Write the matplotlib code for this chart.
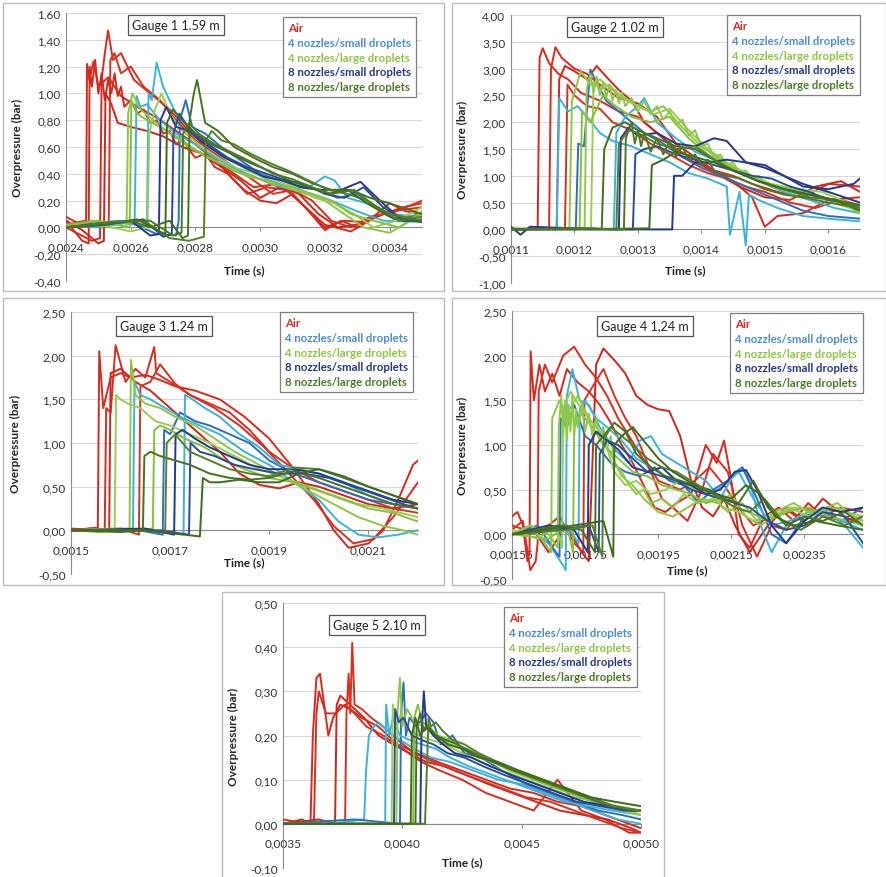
import matplotlib.pyplot as plt
from matplotlib.lines import Line2D
from matplotlib.patches import Rectangle

plt.rcParams['font.family'] = ['Lato', 'DejaVu Sans']

series_names = ['Air', '4 nozzles/small droplets', '4 nozzles/large droplets',
                '8 nozzles/small droplets', '8 nozzles/large droplets']

# times in microseconds, overpressure in bar
# ---------------- Gauge 1 ----------------
g1_air = [
    ([2400, 2430, 2462, 2465, 2472, 2485, 2500, 2530, 2570, 2620, 2680, 2740, 2800, 2860, 2920, 2980, 3040, 3100, 3160, 3200, 3260, 3320, 3400, 3500],
     [0.08, 0.04, 0.02, 1.22, 1.10, 1.24, 1.05, 1.12, 0.98, 0.90, 0.82, 0.72, 0.62, 0.50, 0.40, 0.30, 0.32, 0.25, 0.10, 0.00, 0.05, 0.04, 0.12, 0.15]),
    ([2400, 2440, 2480, 2505, 2510, 2520, 2530, 2545, 2570, 2610, 2660, 2720, 2780, 2840, 2900, 2960, 3020, 3080, 3140, 3200, 3280, 3360, 3440, 3500],
     [0.00, -0.05, -0.10, -0.08, 1.10, 1.30, 1.47, 1.25, 1.30, 1.10, 1.00, 0.88, 0.72, 0.58, 0.40, 0.25, 0.30, 0.28, 0.15, 0.02, -0.03, 0.08, 0.15, 0.18]),
    ([2400, 2450, 2500, 2517, 2522, 2540, 2560, 2600, 2650, 2700, 2760, 2820, 2880, 2940, 3000, 3060, 3120, 3180, 3240, 3300, 3380, 3460, 3500],
     [0.05, -0.02, -0.12, -0.10, 1.00, 0.92, 0.78, 0.75, 0.72, 0.68, 0.60, 0.55, 0.45, 0.35, 0.22, 0.30, 0.25, 0.10, 0.00, 0.02, 0.10, 0.08, 0.10]),
    ([2400, 2460, 2510, 2532, 2537, 2550, 2570, 2600, 2640, 2690, 2740, 2800, 2860, 2920, 2980, 3040, 3100, 3160, 3220, 3280, 3340, 3420, 3500],
     [0.02, 0.05, 0.00, 0.02, 1.25, 1.30, 1.15, 1.20, 1.05, 0.95, 0.80, 0.65, 0.55, 0.45, 0.35, 0.25, 0.28, 0.20, 0.05, 0.00, 0.08, 0.12, 0.20]),
    ([2400, 2450, 2470, 2473, 2480, 2490, 2500, 2510, 2520, 2530, 2540, 2550, 2560, 2570, 2580, 2600, 2620, 2640, 2660, 2680, 2700, 2720, 2740, 2760, 2780, 2800, 2830, 2860, 2900, 2950, 3000, 3050, 3100, 3150, 3200, 3250, 3300, 3350, 3400, 3450, 3500],
     [0.05, -0.10, -0.12, 1.20, 1.05, 1.25, 1.00, 1.15, 0.95, 1.10, 1.00, 1.15, 0.98, 1.05, 0.90, 0.95, 0.85, 0.88, 0.78, 0.80, 0.70, 0.72, 0.62, 0.66, 0.58, 0.52, 0.55, 0.45, 0.40, 0.28, 0.20, 0.18, 0.25, 0.12, -0.02, 0.05, 0.00, 0.08, 0.18, 0.12, 0.10]),
]
g1_s4 = [
    ([2400, 2480, 2560, 2620, 2650, 2655, 2665, 2680, 2700, 2740, 2790, 2850, 2910, 2970, 3030, 3090, 3150, 3200, 3230, 3270, 3330, 3400, 3500],
     [0.00, 0.03, 0.05, 0.02, 0.00, 1.00, 0.95, 1.23, 1.05, 0.85, 0.72, 0.60, 0.50, 0.42, 0.35, 0.30, 0.30, 0.38, 0.35, 0.22, 0.18, 0.10, 0.08]),
    ([2400, 2500, 2600, 2680, 2740, 2748, 2752, 2770, 2790, 2830, 2880, 2940, 3000, 3060, 3120, 3180, 3240, 3300, 3360, 3420, 3500],
     [0.00, 0.02, 0.04, -0.05, -0.06, 0.05, 0.80, 0.95, 0.75, 0.70, 0.60, 0.50, 0.40, 0.35, 0.30, 0.28, 0.22, 0.25, 0.15, 0.05, 0.10]),
    ([2400, 2500, 2580, 2612, 2618, 2630, 2650, 2690, 2740, 2800, 2860, 2920, 2980, 3040, 3100, 3160, 3220, 3300, 3380, 3500],
     [0.02, 0.00, 0.03, 0.02, 0.98, 0.90, 0.92, 0.80, 0.70, 0.62, 0.52, 0.44, 0.38, 0.32, 0.28, 0.25, 0.20, 0.12, 0.05, 0.04]),
]
g1_l4 = [
    ([2400, 2480, 2560, 2587, 2592, 2605, 2630, 2670, 2720, 2780, 2840, 2900, 2960, 3020, 3080, 3140, 3200, 3260, 3320, 3400, 3500],
     [0.00, 0.05, 0.02, 0.00, 0.85, 1.00, 0.88, 0.80, 0.70, 0.60, 0.52, 0.45, 0.38, 0.35, 0.30, 0.25, 0.20, 0.10, 0.00, -0.04, 0.10]),
    ([2400, 2500, 2600, 2652, 2657, 2675, 2695, 2720, 2760, 2810, 2870, 2930, 2990, 3050, 3110, 3170, 3230, 3290, 3350, 3420, 3500],
     [0.00, 0.02, -0.03, 0.00, 0.70, 0.88, 1.00, 0.85, 0.72, 0.62, 0.52, 0.44, 0.40, 0.35, 0.30, 0.22, 0.18, 0.10, 0.00, 0.05, 0.15]),
    ([2400, 2500, 2597, 2602, 2620, 2650, 2690, 2740, 2800, 2860, 2920, 2980, 3040, 3100, 3160, 3220, 3280, 3350, 3430, 3500],
     [0.02, 0.05, 0.00, 0.95, 0.85, 0.80, 0.75, 0.68, 0.58, 0.50, 0.42, 0.38, 0.32, 0.30, 0.25, 0.20, 0.10, 0.05, 0.00, 0.12]),
]
g1_s8 = [
    ([2400, 2500, 2600, 2660, 2687, 2692, 2710, 2740, 2780, 2830, 2890, 2950, 3010, 3070, 3130, 3190, 3250, 3310, 3370, 3440, 3500],
     [0.00, 0.03, 0.05, -0.06, -0.05, 0.80, 0.90, 0.75, 0.72, 0.62, 0.52, 0.45, 0.38, 0.35, 0.30, 0.28, 0.28, 0.34, 0.20, 0.05, 0.05]),
    ([2400, 2520, 2640, 2700, 2727, 2732, 2750, 2790, 2840, 2900, 2960, 3020, 3080, 3140, 3200, 3260, 3320, 3380, 3450, 3500],
     [0.00, 0.02, 0.06, -0.07, -0.05, 0.70, 0.85, 0.70, 0.62, 0.52, 0.45, 0.40, 0.35, 0.32, 0.25, 0.22, 0.30, 0.15, 0.05, 0.06]),
]
g1_l8 = [
    ([2400, 2500, 2600, 2660, 2720, 2760, 2777, 2782, 2795, 2805, 2830, 2870, 2920, 2980, 3040, 3100, 3160, 3220, 3280, 3340, 3400, 3500],
     [0.00, 0.02, 0.05, 0.00, 0.05, -0.08, -0.06, 0.80, 1.00, 1.10, 0.78, 0.72, 0.60, 0.52, 0.45, 0.40, 0.33, 0.28, 0.28, 0.22, 0.18, 0.10]),
    ([2400, 2520, 2640, 2720, 2780, 2826, 2832, 2850, 2880, 2920, 2970, 3030, 3090, 3150, 3210, 3270, 3330, 3400, 3500],
     [0.00, 0.03, 0.05, -0.08, -0.10, -0.07, 0.65, 0.72, 0.65, 0.62, 0.55, 0.48, 0.42, 0.35, 0.28, 0.25, 0.20, 0.10, 0.05]),
    ([2400, 2520, 2620, 2680, 2707, 2712, 2730, 2760, 2800, 2850, 2910, 2970, 3030, 3090, 3150, 3210, 3270, 3330, 3400, 3500],
     [0.00, 0.02, 0.06, -0.02, -0.05, 0.78, 0.88, 0.80, 0.70, 0.62, 0.55, 0.48, 0.42, 0.35, 0.30, 0.25, 0.28, 0.18, 0.08, 0.04]),
    ([2400, 2540, 2660, 2730, 2757, 2762, 2780, 2810, 2860, 2920, 2980, 3040, 3100, 3160, 3220, 3290, 3360, 3430, 3500],
     [0.00, 0.04, 0.05, -0.06, -0.04, 0.70, 0.78, 0.70, 0.62, 0.55, 0.48, 0.40, 0.36, 0.30, 0.25, 0.28, 0.15, 0.05, 0.08]),
]

# ---------------- Gauge 2 ----------------
g2_air = [
    ([1100, 1130, 1142, 1145, 1150, 1160, 1175, 1190, 1210, 1240, 1270, 1300, 1330, 1360, 1390, 1420, 1450, 1480, 1500, 1520, 1560, 1600, 1650],
     [0.00, 0.02, 0.00, 3.20, 3.38, 3.10, 2.90, 2.80, 2.55, 2.40, 2.20, 2.10, 1.80, 1.50, 1.30, 1.10, 0.90, 0.60, 0.05, 0.25, 0.30, 0.55, 0.60]),
    ([1100, 1140, 1160, 1163, 1170, 1180, 1200, 1220, 1240, 1270, 1300, 1330, 1360, 1390, 1420, 1450, 1480, 1520, 1560, 1600, 1650],
     [0.02, 0.00, 0.02, 3.00, 3.40, 3.20, 3.00, 2.90, 2.70, 2.45, 2.35, 2.10, 1.60, 1.35, 1.10, 1.00, 0.85, 0.70, 0.60, 0.85, 0.80]),
    ([1100, 1150, 1172, 1176, 1185, 1200, 1220, 1235, 1250, 1270, 1290, 1310, 1340, 1370, 1400, 1430, 1460, 1500, 1540, 1580, 1620, 1650],
     [0.00, 0.02, 0.01, 2.80, 3.05, 2.95, 2.80, 3.05, 2.85, 2.60, 2.40, 2.00, 1.70, 1.35, 1.20, 1.00, 0.80, 0.60, 0.55, 0.80, 0.90, 0.70]),
    ([1100, 1160, 1185, 1189, 1200, 1220, 1240, 1260, 1290, 1320, 1350, 1380, 1410, 1440, 1470, 1500, 1540, 1580, 1620, 1650],
     [0.00, 0.01, 0.02, 2.70, 2.50, 2.30, 2.25, 2.00, 1.85, 1.60, 1.40, 1.20, 1.05, 0.95, 0.80, 0.70, 0.50, 0.40, 0.55, 0.45]),
]
g2_s4 = [
    ([1100, 1150, 1172, 1176, 1190, 1205, 1220, 1240, 1260, 1290, 1320, 1350, 1380, 1410, 1440, 1445, 1460, 1470, 1475, 1490, 1520, 1560, 1600, 1650],
     [0.00, 0.01, 0.00, 2.45, 2.20, 2.30, 2.10, 1.80, 1.65, 1.55, 1.40, 1.25, 1.05, 0.95, 0.80, -0.10, 0.70, -0.30, 0.65, 0.55, 0.40, 0.25, 0.20, 0.15]),
    ([1100, 1180, 1202, 1206, 1215, 1225, 1250, 1280, 1310, 1340, 1370, 1400, 1440, 1480, 1520, 1560, 1600, 1650],
     [0.00, 0.02, 0.00, 1.60, 1.55, 2.98, 2.40, 2.10, 1.80, 1.60, 1.35, 1.15, 0.95, 0.75, 0.55, 0.35, 0.25, 0.20]),
    ([1100, 1200, 1262, 1266, 1280, 1300, 1310, 1330, 1360, 1390, 1420, 1450, 1490, 1530, 1570, 1610, 1650],
     [0.00, 0.02, 0.00, 1.80, 2.10, 2.30, 2.45, 2.00, 1.70, 1.45, 1.30, 1.10, 0.90, 0.70, 0.55, 0.40, 0.30]),
]
g2_l4 = [
    ([1100, 1170, 1192, 1196, 1210, 1225, 1240, 1260, 1280, 1300, 1320, 1340, 1370, 1400, 1430, 1460, 1500, 1540, 1580, 1620, 1650],
     [0.00, 0.02, 0.00, 2.40, 2.95, 2.70, 2.80, 2.60, 2.45, 2.30, 2.20, 2.30, 1.90, 1.55, 1.30, 1.10, 0.85, 0.70, 0.65, 0.50, 0.30]),
    ([1100, 1200, 1226, 1230, 1240, 1255, 1275, 1300, 1325, 1350, 1380, 1410, 1440, 1470, 1510, 1550, 1590, 1630, 1650],
     [0.00, 0.02, 0.00, 2.75, 2.60, 2.70, 2.45, 2.30, 2.15, 2.25, 1.85, 1.50, 1.25, 1.05, 0.85, 0.75, 0.70, 0.50, 0.40]),
    ([1100, 1180, 1208, 1212, 1225, 1245, 1265, 1290, 1320, 1350, 1380, 1410, 1440, 1480, 1520, 1560, 1600, 1650],
     [0.01, 0.00, 0.02, 2.20, 2.00, 2.50, 2.30, 2.10, 2.00, 2.10, 1.70, 1.40, 1.20, 0.95, 0.80, 0.70, 0.55, 0.35]),
    ([1100, 1150, 1216, 1219, 1225, 1230, 1235, 1240, 1245, 1250, 1255, 1260, 1265, 1270, 1275, 1280, 1290, 1300, 1310, 1320, 1330, 1340, 1350, 1360, 1370, 1380, 1390, 1400, 1410, 1420, 1430, 1440, 1450, 1460, 1470, 1480, 1490, 1500, 1520, 1540, 1560, 1580, 1600, 1620, 1650],
     [0.00, 0.02, 0.01, 2.60, 2.90, 2.55, 2.85, 2.50, 2.75, 2.45, 2.70, 2.40, 2.60, 2.35, 2.55, 2.30, 2.45, 2.20, 2.40, 2.15, 2.30, 2.05, 2.20, 1.95, 2.05, 1.75, 1.85, 1.55, 1.60, 1.35, 1.40, 1.20, 1.25, 1.05, 1.10, 0.95, 1.00, 0.85, 0.80, 0.70, 0.75, 0.60, 0.55, 0.45, 0.35]),
]
g2_s8 = [
    ([1100, 1115, 1130, 1200, 1270, 1273, 1285, 1300, 1330, 1360, 1390, 1420, 1440, 1470, 1500, 1530, 1560, 1600, 1640, 1650],
     [0.05, -0.10, 0.05, 0.02, 0.00, 1.70, 1.90, 1.75, 1.80, 1.60, 1.55, 1.70, 1.65, 1.25, 1.20, 1.00, 0.80, 0.75, 0.85, 0.95]),
    ([1100, 1200, 1292, 1296, 1310, 1330, 1360, 1390, 1420, 1450, 1480, 1510, 1540, 1570, 1600, 1650],
     [0.00, 0.02, 0.00, 1.40, 1.50, 1.55, 1.40, 1.30, 1.20, 1.10, 1.00, 0.95, 0.80, 0.70, 0.55, 0.45]),
    ([1100, 1200, 1300, 1354, 1357, 1370, 1390, 1410, 1440, 1470, 1500, 1530, 1560, 1600, 1650],
     [0.00, 0.00, 0.00, 0.00, 1.00, 1.00, 1.25, 1.25, 1.30, 1.25, 1.15, 1.00, 0.85, 0.70, 0.50]),
]
g2_l8 = [
    ([1100, 1200, 1243, 1247, 1260, 1280, 1300, 1330, 1360, 1390, 1420, 1450, 1490, 1530, 1570, 1610, 1650],
     [0.00, 0.01, 0.00, 1.50, 1.90, 2.00, 1.85, 1.70, 1.55, 1.50, 1.30, 1.10, 0.90, 0.75, 0.65, 0.55, 0.45]),
    ([1100, 1220, 1266, 1270, 1285, 1300, 1330, 1360, 1390, 1420, 1450, 1490, 1530, 1570, 1610, 1650],
     [0.00, 0.02, 0.00, 1.60, 1.85, 1.80, 1.60, 1.50, 1.55, 1.30, 1.10, 0.90, 0.75, 0.60, 0.55, 0.40]),
    ([1100, 1250, 1318, 1322, 1340, 1360, 1390, 1420, 1450, 1490, 1530, 1570, 1610, 1650],
     [0.00, 0.01, 0.02, 1.20, 1.30, 1.45, 1.35, 1.25, 1.10, 0.90, 0.75, 0.65, 0.55, 0.35]),
    ([1100, 1200, 1278, 1281, 1290, 1295, 1300, 1305, 1310, 1320, 1330, 1340, 1350, 1360, 1370, 1380, 1390, 1400, 1410, 1420, 1440, 1460, 1480, 1500, 1530, 1560, 1600, 1650],
     [0.00, 0.02, 0.00, 1.70, 2.00, 1.60, 1.85, 1.55, 1.80, 1.45, 1.70, 1.40, 1.65, 1.35, 1.55, 1.30, 1.40, 1.20, 1.30, 1.10, 1.00, 0.95, 0.85, 0.75, 0.65, 0.60, 0.50, 0.40]),
]

# ---------------- Gauge 3 ----------------
g3_air = [
    ([1500, 1540, 1554, 1557, 1565, 1580, 1600, 1620, 1650, 1680, 1710, 1750, 1800, 1850, 1900, 1950, 2000, 2030, 2060, 2100, 2130, 2160, 2190, 2200],
     [0.00, 0.02, -0.02, 2.05, 1.40, 1.75, 1.80, 1.75, 1.78, 1.72, 1.65, 1.60, 1.50, 1.30, 1.05, 0.70, 0.30, 0.00, -0.20, -0.15, 0.00, 0.35, 0.75, 0.80]),
    ([1500, 1550, 1568, 1571, 1580, 1590, 1610, 1630, 1650, 1668, 1672, 1700, 1740, 1790, 1840, 1890, 1940, 1990, 2030, 2070, 2110, 2150, 2200],
     [0.00, 0.03, 0.00, 1.40, 1.35, 2.12, 1.70, 1.85, 1.75, 2.10, 1.80, 1.70, 1.55, 1.40, 1.20, 0.95, 0.65, 0.35, 0.05, -0.15, -0.10, 0.15, 0.55]),
    ([1500, 1560, 1577, 1580, 1600, 1630, 1660, 1690, 1720, 1760, 1800, 1840, 1880, 1920, 1960, 2000, 2050, 2100, 2150, 2200],
     [0.02, 0.00, 0.00, 1.80, 1.85, 1.70, 1.60, 1.45, 1.30, 1.10, 0.90, 0.65, 0.52, 0.48, 0.55, 0.50, 0.40, 0.30, 0.25, 0.30]),
    ([1500, 1600, 1637, 1640, 1660, 1680, 1710, 1740, 1780, 1820, 1860, 1900, 1950, 2000, 2050, 2100, 2150, 2200],
     [0.00, 0.02, -0.05, 1.65, 1.70, 1.90, 1.68, 1.55, 1.45, 1.35, 1.15, 0.90, 0.70, 0.55, 0.45, 0.35, 0.25, 0.20]),
]
g3_s4 = [
    ([1500, 1600, 1625, 1628, 1640, 1660, 1690, 1720, 1760, 1800, 1850, 1900, 1950, 2000, 2040, 2080, 2120, 2160, 2200],
     [0.00, 0.02, 0.00, 1.70, 1.55, 1.50, 1.40, 1.30, 1.20, 1.10, 0.90, 0.75, 0.55, 0.35, 0.10, -0.05, -0.08, -0.05, 0.00]),
    ([1500, 1620, 1685, 1688, 1700, 1720, 1750, 1780, 1820, 1860, 1900, 1950, 2000, 2050, 2100, 2150, 2200],
     [0.00, 0.02, -0.05, 1.15, 1.10, 1.35, 1.25, 1.20, 1.10, 1.00, 0.80, 0.65, 0.55, 0.45, 0.35, 0.30, 0.25]),
    ([1500, 1650, 1727, 1730, 1745, 1770, 1800, 1840, 1880, 1920, 1960, 2000, 2050, 2100, 2150, 2200],
     [0.00, 0.00, -0.05, 1.55, 1.50, 1.40, 1.30, 1.10, 0.95, 0.75, 0.70, 0.65, 0.55, 0.40, 0.30, 0.25]),
]
g3_l4 = [
    ([1500, 1580, 1618, 1621, 1630, 1650, 1680, 1710, 1750, 1790, 1830, 1880, 1930, 1980, 2030, 2080, 2130, 2170, 2200],
     [0.00, 0.02, 0.00, 1.95, 1.55, 1.45, 1.40, 1.30, 1.20, 1.05, 0.90, 0.75, 0.60, 0.45, 0.30, 0.15, 0.05, 0.00, -0.05]),
    ([1500, 1560, 1588, 1591, 1600, 1615, 1640, 1670, 1700, 1740, 1780, 1830, 1880, 1930, 1980, 2030, 2080, 2130, 2200],
     [0.00, -0.02, 0.00, 1.55, 1.50, 1.45, 1.40, 1.25, 1.20, 1.10, 1.00, 0.85, 0.70, 0.60, 0.50, 0.40, 0.30, 0.25, 0.15]),
    ([1500, 1620, 1665, 1668, 1680, 1700, 1730, 1770, 1810, 1850, 1900, 1950, 2000, 2050, 2100, 2150, 2200],
     [0.00, 0.00, 0.02, 1.15, 1.20, 1.15, 1.05, 0.95, 0.80, 0.70, 0.60, 0.55, 0.45, 0.35, 0.25, 0.20, 0.10]),
]
g3_s8 = [
    ([1500, 1650, 1708, 1711, 1725, 1750, 1780, 1820, 1860, 1900, 1950, 2000, 2050, 2100, 2150, 2200],
     [0.00, 0.02, -0.05, 1.10, 1.15, 1.05, 0.95, 0.85, 0.75, 0.70, 0.70, 0.65, 0.55, 0.45, 0.35, 0.30]),
    ([1500, 1680, 1738, 1741, 1760, 1790, 1830, 1870, 1920, 1970, 2020, 2070, 2120, 2170, 2200],
     [0.00, 0.00, -0.05, 1.00, 0.90, 0.85, 0.75, 0.70, 0.65, 0.65, 0.60, 0.50, 0.40, 0.30, 0.25]),
]
g3_l8 = [
    ([1500, 1600, 1645, 1648, 1660, 1680, 1710, 1740, 1780, 1820, 1860, 1900, 1950, 2000, 2050, 2100, 2150, 2200],
     [0.00, -0.02, 0.00, 0.85, 0.90, 0.85, 0.80, 0.75, 0.65, 0.60, 0.58, 0.60, 0.68, 0.60, 0.50, 0.40, 0.30, 0.25]),
    ([1500, 1640, 1690, 1693, 1710, 1740, 1780, 1820, 1860, 1900, 1950, 2000, 2050, 2100, 2150, 2200],
     [0.00, 0.00, -0.02, 1.00, 1.10, 0.90, 0.80, 0.70, 0.65, 0.62, 0.72, 0.70, 0.60, 0.50, 0.40, 0.30]),
    ([1500, 1650, 1700, 1760, 1766, 1780, 1800, 1840, 1880, 1920, 1960, 2000, 2050, 2100, 2150, 2200],
     [0.00, 0.00, -0.03, -0.07, 0.60, 0.55, 0.55, 0.58, 0.55, 0.55, 0.65, 0.70, 0.62, 0.50, 0.40, 0.30]),
]

# ---------------- Gauge 4 ----------------
g4_air = [
    ([1550, 1565, 1580, 1592, 1598, 1601, 1610, 1625, 1640, 1660, 1680, 1700, 1730, 1760, 1790, 1820, 1850, 1880, 1910, 1940, 1970, 2000, 2040, 2080, 2110, 2130, 2150, 2170, 2200, 2240, 2280, 2320, 2360, 2400, 2450, 2510],
     [0.20, 0.25, 0.10, -0.30, -0.20, 2.05, 1.50, 1.90, 1.60, 1.80, 1.55, 1.85, 1.70, 1.60, 1.45, 1.25, 1.00, 0.80, 0.55, 0.30, 0.25, 0.35, 0.45, 1.00, 0.80, 1.05, 0.60, 0.00, -0.15, 0.20, 0.30, 0.15, 0.35, 0.20, 0.30, 0.25]),
    ([1550, 1580, 1600, 1615, 1620, 1623, 1640, 1660, 1690, 1720, 1750, 1780, 1810, 1840, 1870, 1900, 1930, 1960, 1990, 2030, 2070, 2100, 2140, 2180, 2220, 2260, 2300, 2350, 2400, 2460, 2510],
     [0.05, 0.15, -0.40, -0.30, -0.10, 1.60, 1.90, 1.70, 2.00, 2.10, 1.90, 1.75, 1.55, 1.30, 1.10, 0.90, 0.70, 0.40, 0.30, 0.15, 0.50, 0.90, 0.70, 0.10, -0.25, 0.10, 0.05, 0.30, 0.20, 0.15, 0.20]),
    ([1550, 1600, 1650, 1700, 1740, 1760, 1780, 1800, 1830, 1860, 1890, 1920, 1950, 1980, 2010, 2040, 2070, 2100, 2130, 2160, 2200, 2250, 2300, 2350, 2400, 2460, 2510],
     [0.00, 0.10, -0.20, 0.10, -0.20, -0.30, 1.90, 2.08, 1.95, 1.80, 1.55, 1.45, 1.40, 1.38, 1.10, 0.60, 0.30, 0.20, 0.40, 0.10, -0.20, 0.10, 0.30, 0.15, 0.40, 0.20, 0.10]),
    ([1550, 1620, 1680, 1720, 1745, 1748, 1770, 1800, 1830, 1860, 1890, 1920, 1950, 1980, 2010, 2050, 2090, 2130, 2170, 2210, 2260, 2310, 2360, 2410, 2460, 2510],
     [0.10, 0.00, 0.20, -0.10, -0.20, 1.50, 1.65, 1.85, 1.55, 1.30, 1.10, 0.80, 0.60, 0.55, 0.50, 0.60, 0.75, 0.55, 0.30, 0.10, 0.20, 0.25, 0.10, 0.30, 0.25, 0.15]),
]
g4_s4 = [
    ([1550, 1600, 1650, 1690, 1697, 1700, 1715, 1735, 1760, 1790, 1830, 1870, 1900, 1930, 1960, 2000, 2040, 2080, 2120, 2160, 2180, 2200, 2230, 2260, 2300, 2350, 2400, 2460, 2510],
     [0.00, 0.05, -0.10, -0.35, -0.40, 1.55, 1.85, 1.50, 1.45, 1.20, 0.95, 0.80, 1.05, 1.10, 0.90, 0.80, 0.70, 0.60, 0.40, 0.70, 0.75, 0.60, 0.10, -0.20, 0.10, 0.20, 0.30, 0.10, -0.15]),
    ([1550, 1620, 1670, 1680, 1683, 1700, 1720, 1750, 1780, 1820, 1860, 1900, 1940, 1980, 2020, 2060, 2100, 2140, 2180, 2220, 2260, 2300, 2350, 2400, 2450, 2510],
     [0.00, 0.10, -0.20, -0.25, 1.30, 1.20, 1.45, 1.10, 1.00, 0.80, 0.70, 0.65, 0.75, 0.60, 0.55, 0.35, 0.50, 0.60, 0.75, 0.40, 0.00, -0.10, 0.20, 0.25, 0.15, 0.30]),
    ([1550, 1650, 1700, 1732, 1735, 1750, 1780, 1810, 1850, 1890, 1930, 1970, 2010, 2050, 2090, 2130, 2170, 2210, 2260, 2310, 2360, 2420, 2510],
     [0.00, 0.05, 0.10, -0.10, 1.40, 1.50, 1.30, 1.20, 1.05, 0.85, 0.75, 0.65, 0.60, 0.50, 0.45, 0.55, 0.70, 0.40, 0.10, 0.15, 0.25, 0.20, 0.05]),
]
g4_l4 = [
    ([1550, 1600, 1640, 1657, 1660, 1680, 1700, 1730, 1760, 1790, 1820, 1850, 1880, 1910, 1950, 1990, 2030, 2070, 2110, 2150, 2190, 2230, 2270, 2320, 2380, 2440, 2510],
     [0.00, 0.10, -0.10, -0.20, 1.30, 1.50, 1.35, 1.55, 1.30, 1.15, 0.90, 0.65, 0.55, 0.40, 0.25, 0.20, 0.30, 0.40, 0.35, 0.45, 0.20, 0.10, 0.20, 0.30, 0.25, 0.35, 0.10]),
    ([1550, 1620, 1670, 1687, 1690, 1710, 1740, 1770, 1800, 1830, 1860, 1890, 1930, 1970, 2010, 2050, 2090, 2130, 2170, 2210, 2260, 2310, 2360, 2420, 2510],
     [0.05, -0.05, 0.10, -0.15, 1.40, 1.60, 1.40, 1.25, 1.10, 0.70, 0.55, 0.60, 0.45, 0.50, 0.60, 0.50, 0.45, 0.30, 0.25, 0.15, 0.20, 0.30, 0.20, 0.30, 0.20]),
    ([1550, 1650, 1700, 1717, 1720, 1740, 1770, 1800, 1840, 1880, 1920, 1960, 2000, 2040, 2080, 2120, 2160, 2200, 2250, 2300, 2360, 2420, 2510],
     [0.00, -0.05, 0.10, -0.20, 1.20, 1.35, 1.20, 1.00, 0.85, 0.70, 0.65, 0.55, 0.50, 0.45, 0.35, 0.40, 0.30, 0.25, 0.15, 0.25, 0.30, 0.20, 0.10]),
    ([1550, 1600, 1650, 1675, 1678, 1685, 1690, 1695, 1700, 1705, 1710, 1715, 1720, 1725, 1730, 1740, 1750, 1760, 1770, 1780, 1790, 1800, 1810, 1820, 1830, 1850, 1870, 1890, 1910, 1930, 1960, 1990, 2020, 2060, 2100, 2140, 2180, 2220, 2270, 2320, 2380, 2440, 2510],
     [0.00, 0.10, 0.00, -0.15, 1.20, 1.55, 1.10, 1.50, 1.05, 1.45, 1.15, 1.55, 1.10, 1.40, 1.20, 1.45, 1.15, 1.35, 1.10, 1.30, 1.05, 1.20, 0.95, 1.10, 0.80, 0.70, 0.55, 0.45, 0.50, 0.35, 0.40, 0.30, 0.45, 0.35, 0.40, 0.25, 0.35, 0.15, 0.25, 0.35, 0.20, 0.30, 0.15]),
]
g4_s8 = [
    ([1550, 1650, 1720, 1757, 1760, 1780, 1810, 1840, 1880, 1920, 1960, 2000, 2040, 2080, 2120, 2160, 2190, 2220, 2260, 2300, 2350, 2400, 2450, 2510],
     [0.00, 0.10, 0.05, -0.20, 1.00, 1.15, 1.05, 0.95, 0.75, 0.70, 0.75, 0.60, 0.55, 0.45, 0.50, 0.70, 0.72, 0.50, 0.10, -0.10, 0.15, 0.30, 0.25, 0.30]),
    ([1550, 1680, 1760, 1787, 1790, 1810, 1840, 1880, 1920, 1960, 2000, 2040, 2080, 2120, 2160, 2200, 2250, 2300, 2350, 2400, 2460, 2510],
     [0.00, 0.05, 0.10, -0.20, 0.90, 1.05, 1.00, 0.85, 0.70, 0.65, 0.60, 0.50, 0.45, 0.40, 0.35, 0.30, 0.15, 0.05, 0.10, 0.25, 0.20, -0.10]),
]
g4_l8 = [
    ([1550, 1680, 1740, 1777, 1780, 1800, 1830, 1860, 1890, 1930, 1970, 2010, 2050, 2090, 2130, 2170, 2210, 2250, 2300, 2350, 2400, 2460, 2510],
     [0.00, 0.10, 0.05, -0.20, 1.00, 1.10, 1.25, 1.15, 0.90, 0.75, 0.65, 0.60, 0.55, 0.50, 0.40, 0.35, 0.60, 0.30, 0.10, 0.20, 0.15, 0.25, 0.10]),
    ([1550, 1700, 1770, 1797, 1800, 1820, 1850, 1880, 1920, 1960, 2000, 2040, 2080, 2120, 2160, 2200, 2240, 2290, 2340, 2400, 2460, 2510],
     [0.00, 0.05, 0.10, -0.25, 1.05, 1.20, 1.10, 1.00, 0.85, 0.75, 0.70, 0.60, 0.50, 0.40, 0.30, 0.25, 0.40, 0.15, 0.05, 0.20, 0.10, 0.20]),
    ([1550, 1720, 1800, 1827, 1830, 1850, 1880, 1910, 1950, 1990, 2030, 2070, 2110, 2150, 2190, 2230, 2270, 2320, 2380, 2440, 2510],
     [0.00, 0.10, 0.15, -0.25, 1.00, 1.10, 1.20, 1.05, 0.85, 0.70, 0.60, 0.50, 0.45, 0.40, 0.55, 0.45, 0.20, 0.10, 0.15, 0.10, 0.05]),
]

# ---------------- Gauge 5 ----------------
g5_air = [
    ([3500, 3580, 3615, 3625, 3640, 3655, 3670, 3690, 3710, 3740, 3780, 3830, 3900, 3980, 4060, 4150, 4250, 4350, 4450, 4550, 4650, 4750, 4850, 4950, 5000],
     [0.00, 0.01, 0.00, 0.20, 0.33, 0.34, 0.28, 0.20, 0.24, 0.27, 0.26, 0.24, 0.22, 0.18, 0.16, 0.14, 0.12, 0.10, 0.08, 0.07, 0.05, 0.04, 0.02, 0.00, -0.01]),
    ([3500, 3600, 3630, 3640, 3650, 3680, 3720, 3760, 3800, 3850, 3920, 4000, 4080, 4160, 4250, 4350, 4450, 4550, 4650, 4750, 4850, 4950, 5000],
     [0.01, 0.00, 0.01, 0.25, 0.30, 0.25, 0.25, 0.27, 0.25, 0.22, 0.20, 0.17, 0.14, 0.12, 0.10, 0.07, 0.05, 0.03, 0.10, 0.03, 0.01, -0.02, -0.02]),
    ([3500, 3650, 3718, 3725, 3740, 3760, 3780, 3800, 3840, 3900, 3960, 4030, 4100, 4180, 4270, 4360, 4460, 4560, 4660, 4760, 4860, 4960, 5000],
     [0.00, 0.01, 0.00, 0.27, 0.29, 0.28, 0.27, 0.26, 0.24, 0.20, 0.18, 0.16, 0.14, 0.13, 0.11, 0.09, 0.07, 0.05, 0.03, 0.02, 0.01, -0.01, -0.02]),
    ([3500, 3700, 3760, 3766, 3775, 3782, 3790, 3800, 3830, 3870, 3920, 3980, 4050, 4130, 4220, 4320, 4420, 4520, 4620, 4720, 4820, 4920, 5000],
     [0.00, 0.00, 0.00, 0.25, 0.34, 0.25, 0.41, 0.27, 0.26, 0.24, 0.22, 0.19, 0.16, 0.14, 0.12, 0.10, 0.08, 0.06, 0.05, 0.03, 0.01, -0.01, -0.02]),
]
g5_s4 = [
    ([3500, 3700, 3840, 3848, 3860, 3880, 3900, 3940, 3990, 4050, 4120, 4200, 4300, 4400, 4500, 4600, 4700, 4800, 4900, 5000],
     [0.00, 0.00, 0.01, 0.12, 0.20, 0.22, 0.23, 0.21, 0.19, 0.17, 0.15, 0.14, 0.12, 0.10, 0.09, 0.07, 0.05, 0.03, 0.01, 0.00]),
    ([3500, 3800, 3990, 3995, 4005, 4015, 4030, 4060, 4100, 4130, 4160, 4210, 4260, 4330, 4420, 4520, 4620, 4720, 4820, 4920, 5000],
     [0.00, 0.01, 0.00, 0.25, 0.32, 0.20, 0.24, 0.22, 0.25, 0.23, 0.18, 0.20, 0.16, 0.15, 0.12, 0.09, 0.07, 0.05, 0.03, 0.02, 0.01]),
    ([3500, 3800, 3928, 3932, 3945, 3960, 3990, 4030, 4080, 4140, 4200, 4280, 4380, 4480, 4580, 4680, 4780, 4880, 5000],
     [0.00, 0.00, 0.00, 0.27, 0.20, 0.24, 0.20, 0.19, 0.18, 0.17, 0.15, 0.13, 0.11, 0.09, 0.07, 0.05, 0.04, 0.03, 0.02]),
]
g5_l4 = [
    ([3500, 3800, 3975, 3980, 3990, 4000, 4020, 4050, 4090, 4140, 4200, 4270, 4350, 4450, 4550, 4650, 4750, 4850, 4950, 5000],
     [0.00, 0.00, 0.00, 0.25, 0.33, 0.22, 0.26, 0.23, 0.22, 0.20, 0.18, 0.17, 0.15, 0.12, 0.10, 0.08, 0.06, 0.04, 0.03, 0.02]),
    ([3500, 3750, 3955, 3960, 3975, 3995, 4030, 4070, 4120, 4180, 4250, 4330, 4420, 4520, 4620, 4720, 4820, 4920, 5000],
     [0.00, 0.00, 0.00, 0.27, 0.22, 0.25, 0.21, 0.20, 0.19, 0.18, 0.16, 0.14, 0.12, 0.10, 0.08, 0.06, 0.05, 0.03, 0.02]),
    ([3500, 3800, 4045, 4050, 4065, 4085, 4110, 4150, 4200, 4260, 4330, 4420, 4510, 4600, 4700, 4800, 4900, 5000],
     [0.00, 0.00, 0.00, 0.24, 0.27, 0.23, 0.22, 0.20, 0.19, 0.17, 0.15, 0.13, 0.11, 0.09, 0.07, 0.05, 0.04, 0.03]),
]
g5_s8 = [
    ([3500, 3800, 4075, 4080, 4090, 4100, 4130, 4170, 4220, 4290, 4370, 4460, 4560, 4660, 4760, 4860, 4960, 5000],
     [0.00, 0.00, 0.00, 0.20, 0.30, 0.22, 0.20, 0.18, 0.16, 0.15, 0.13, 0.11, 0.09, 0.07, 0.05, 0.04, 0.03, 0.03]),
    ([3500, 3800, 3965, 3970, 3985, 4005, 4040, 4080, 4130, 4190, 4260, 4340, 4430, 4530, 4630, 4730, 4830, 4930, 5000],
     [0.00, 0.00, 0.00, 0.26, 0.23, 0.24, 0.20, 0.19, 0.18, 0.16, 0.15, 0.13, 0.11, 0.09, 0.07, 0.05, 0.04, 0.03, 0.03]),
]
g5_l8 = [
    ([3500, 3800, 4055, 4060, 4075, 4090, 4110, 4140, 4180, 4230, 4300, 4380, 4470, 4570, 4670, 4770, 4870, 4970, 5000],
     [0.00, 0.00, 0.00, 0.22, 0.25, 0.21, 0.22, 0.20, 0.19, 0.18, 0.16, 0.14, 0.12, 0.10, 0.08, 0.06, 0.04, 0.03, 0.03]),
    ([3500, 3800, 4095, 4110, 4120, 4140, 4170, 4210, 4260, 4320, 4400, 4490, 4590, 4690, 4790, 4890, 5000],
     [0.00, 0.00, 0.00, 0.24, 0.22, 0.23, 0.21, 0.19, 0.18, 0.16, 0.14, 0.12, 0.10, 0.08, 0.06, 0.04, 0.03]),
    ([3500, 3800, 4035, 4040, 4055, 4075, 4100, 4140, 4190, 4250, 4320, 4400, 4490, 4590, 4690, 4790, 4890, 5000],
     [0.00, 0.00, 0.00, 0.20, 0.24, 0.20, 0.22, 0.20, 0.18, 0.17, 0.15, 0.14, 0.12, 0.10, 0.08, 0.06, 0.05, 0.04]),
]

# axis ticks (time in microseconds)
g1_xticks = [2400, 2600, 2800, 3000, 3200, 3400]
g2_xticks = [1100, 1200, 1300, 1400, 1500, 1600]
g3_xticks = [1500, 1700, 1900, 2100]
g4_xticks = [1550, 1750, 1950, 2150, 2350]
g5_xticks = [3500, 4000, 4500, 5000]
g1_yticks = [-0.4, -0.2, 0.0, 0.2, 0.4, 0.6, 0.8, 1.0, 1.2, 1.4, 1.6]
g2_yticks = [-1.0, -0.5, 0.0, 0.5, 1.0, 1.5, 2.0, 2.5, 3.0, 3.5, 4.0]
g3_yticks = [-0.5, 0.0, 0.5, 1.0, 1.5, 2.0, 2.5]
g4_yticks = [-0.5, 0.0, 0.5, 1.0, 1.5, 2.0, 2.5]
g5_yticks = [-0.1, 0.0, 0.1, 0.2, 0.3, 0.4, 0.5]

# styling
legend_colors = ['#E0291F', '#4A8DD3', '#8DC63F', '#25388A', '#4B7A26']
trace_colors = [
    ['#D62A1F', '#DA2B20', '#CF261C', '#D8321F', '#D42A1E'],
    ['#3BB3DB', '#2F6EBA', '#3BB3DB'],
    ['#8FC745', '#9ACD52', '#86C03C', '#92C84A'],
    ['#25388A', '#2A4C9A', '#25388A'],
    ['#46721F', '#557F2A', '#3F6B1C', '#4E7A24'],
]

W, H = 887, 878
fig = plt.figure(figsize=(W / 100, H / 100), dpi=100)
fig.patch.set_facecolor('white')

panels = [
    dict(title='Gauge 1 1.59 m', data=[g1_air, g1_s4, g1_l4, g1_s8, g1_l8],
         xlim=(2400, 3500), xt=g1_xticks, xdec=4, yt=g1_yticks,
         ax_px=(66, 14, 422, 282), frame_px=(3, 4, 444, 292),
         title_pos=(0.309, 0.955), leg=(0.983, 0.985), xl=0.041, yl_x=17),
    dict(title='Gauge 2 1.02 m', data=[g2_air, g2_s4, g2_l4, g2_s8, g2_l8],
         xlim=(1100, 1650), xt=g2_xticks, xdec=4, yt=g2_yticks,
         ax_px=(511, 16, 860, 284), frame_px=(452, 4, 886, 292),
         title_pos=(0.298, 0.955), leg=(1.0, 1.0), xl=0.049, yl_x=462),
    dict(title='Gauge 3 1.24 m', data=[g3_air, g3_s4, g3_l4, g3_s8, g3_l8],
         xlim=(1500, 2200), xt=g3_xticks, xdec=4, yt=g3_yticks,
         ax_px=(71, 313, 418, 575), frame_px=(3, 299, 444, 586),
         title_pos=(0.268, 0.947), leg=(0.986, 1.0), xl=0.046, yl_x=15),
    dict(title='Gauge 4 1,24 m', data=[g4_air, g4_s4, g4_l4, g4_s8, g4_l8],
         xlim=(1550, 2510), xt=g4_xticks, xdec=5, yt=g4_yticks,
         ax_px=(512, 312, 863, 580), frame_px=(452, 299, 886, 586),
         title_pos=(0.379, 0.944), leg=(1.0, 0.993), xl=0.034, yl_x=462),
    dict(title='Gauge 5 2.10 m', data=[g5_air, g5_s4, g5_l4, g5_s8, g5_l8],
         xlim=(3500, 5000), xt=g5_xticks, xdec=4, yt=g5_yticks,
         ax_px=(283, 604, 641, 869), frame_px=(222, 593, 664, 880),
         title_pos=(0.263, 0.917), leg=(0.99, 0.985), xl=0.023, yl_x=233),
]

for p in panels:
    fx0, fy0, fx1, fy1 = p['frame_px']
    fig.patches.append(Rectangle((fx0 / W, 1 - fy1 / H), (fx1 - fx0) / W, (fy1 - fy0) / H,
                                 transform=fig.transFigure, fill=False,
                                 edgecolor='#BDBDBD', lw=1.0))
    x0, y0, x1, y1 = p['ax_px']
    ax = fig.add_axes([x0 / W, 1 - y1 / H, (x1 - x0) / W, (y1 - y0) / H])
    ax.set_facecolor('none')

    for gi, group in enumerate(p['data']):
        cols = trace_colors[gi]
        for ti, (t, v) in enumerate(group):
            ax.plot(t, v, color=cols[ti % len(cols)], lw=1.4, zorder=3 + gi * 0.1)

    ax.set_xlim(*p['xlim'])
    ax.set_ylim(p['yt'][0], p['yt'][-1])
    ax.set_xticks(p['xt'])
    ax.set_xticklabels([f"{v * 1e-6:.{p['xdec']}f}".replace('.', ',') for v in p['xt']])
    ax.set_yticks(p['yt'])
    ax.set_yticklabels([f"{v:.2f}".replace('.', ',') for v in p['yt']])
    ax.grid(axis='y', color='#D9D9D9', lw=0.8, zorder=0)
    ax.set_axisbelow(True)
    for s in ['top', 'right']:
        ax.spines[s].set_visible(False)
    ax.spines['bottom'].set_position(('data', 0))
    ax.spines['bottom'].set_color('#8C8C8C')
    ax.spines['left'].set_color('#8C8C8C')
    ax.spines['bottom'].set_zorder(2)
    ax.tick_params(axis='x', length=3, color='#8C8C8C', labelsize=8.5, pad=7, labelcolor='#333333')
    ax.tick_params(axis='y', length=0, labelsize=8.5, pad=4, labelcolor='#333333')

    ax.text(0.5, p['xl'], 'Time (s)', transform=ax.transAxes, ha='center', va='center',
            fontsize=8.5, fontweight='bold', color='#222222')
    fig.text(p['yl_x'] / W, 1 - (y0 + y1) / 2 / H, 'Overpressure (bar)', rotation=90,
             ha='center', va='center', fontsize=8.5, fontweight='bold', color='#222222')
    ax.text(p['title_pos'][0], p['title_pos'][1], p['title'], transform=ax.transAxes,
            ha='center', va='center', fontsize=9, color='#222222', zorder=10,
            bbox=dict(boxstyle='square,pad=0.35', fc='white', ec='#555555', lw=0.9))

    handles = [Line2D([], [], linestyle='none') for _ in series_names]
    leg = ax.legend(handles, series_names, loc='upper right', bbox_to_anchor=p['leg'],
                    handlelength=0, handletextpad=0, labelcolor=legend_colors,
                    prop={'size': 8.2, 'weight': 'bold'}, frameon=True, fancybox=False,
                    framealpha=1, edgecolor='#7F7F7F', labelspacing=0.33,
                    borderpad=0.45, borderaxespad=0)
    leg.get_frame().set_linewidth(0.9)
    leg.set_zorder(10)

fig.savefig('out.png', dpi=100, facecolor='white')
